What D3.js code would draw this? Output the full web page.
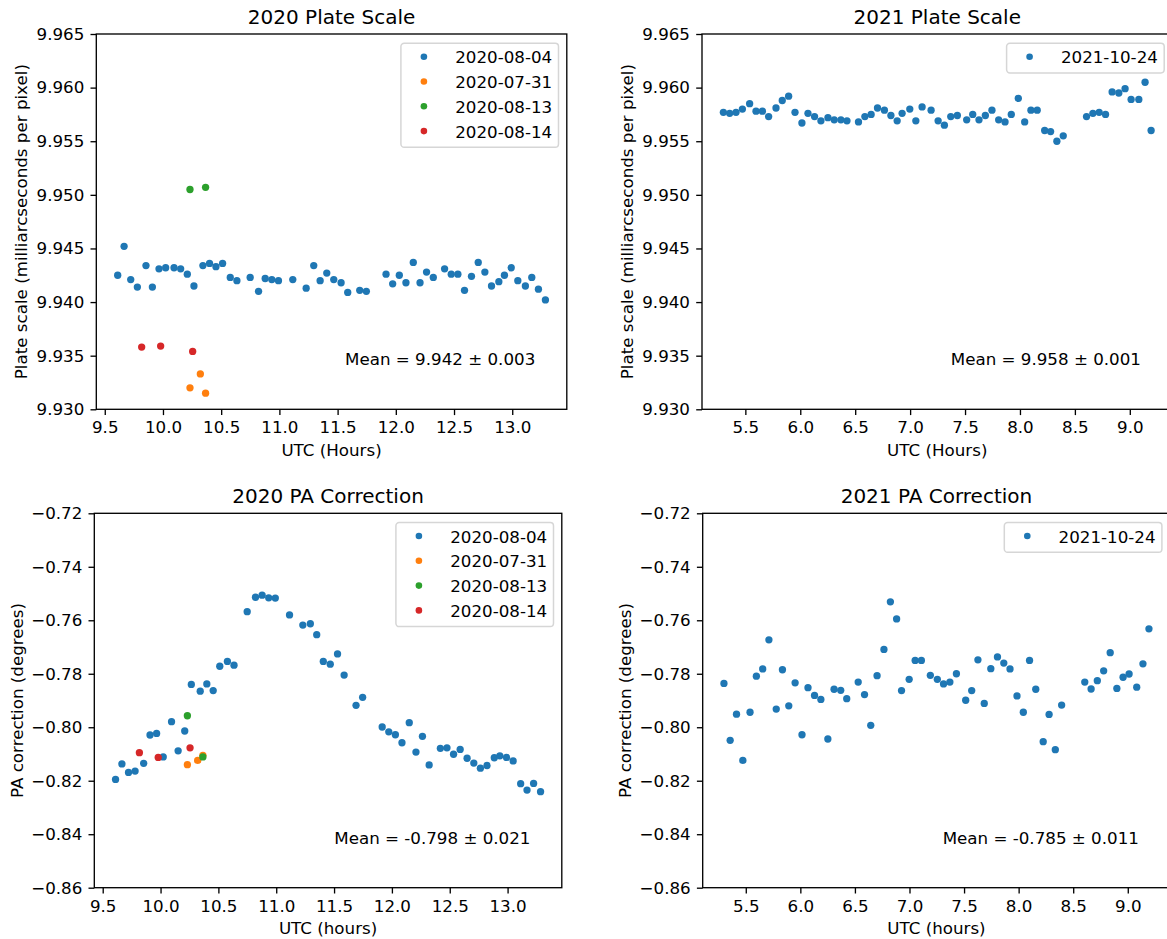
<!DOCTYPE html>
<html>
<head>
<meta charset="utf-8">
<script src="https://cdn.jsdelivr.net/npm/d3@7"></script>
<style>
body { margin: 0; background: #fff; }
svg { display: block; font-family: "DejaVu Sans", sans-serif; }
</style>
</head>
<body>
<svg id="chart"></svg>
<script>
// ---- data ----
const hours0804 = [9.611, 9.666, 9.723, 9.780, 9.854, 9.909, 9.966, 10.023, 10.095, 10.152, 10.209, 10.266, 10.343, 10.400, 10.455, 10.512, 10.578, 10.635, 10.749, 10.821, 10.878, 10.935, 10.992, 11.115, 11.230, 11.295, 11.350, 11.407, 11.467, 11.530, 11.587, 11.690, 11.747, 11.916, 11.973, 12.030, 12.087, 12.150, 12.208, 12.264, 12.322, 12.419, 12.476, 12.533, 12.590, 12.650, 12.708, 12.765, 12.822, 12.885, 12.933, 12.991, 13.048, 13.113, 13.168, 13.225, 13.285];
const scale0804 = [9.9425, 9.9452, 9.9421, 9.9414, 9.9434, 9.9414, 9.9431, 9.9432, 9.9432, 9.9431, 9.9426, 9.9415, 9.9434, 9.9436, 9.9433, 9.9436, 9.9423, 9.9420, 9.9423, 9.9410, 9.9422, 9.9421, 9.9420, 9.9421, 9.9413, 9.9434, 9.9420, 9.9427,
  9.9421, 9.9418, 9.9409, 9.9411, 9.9410, 9.9426, 9.9417, 9.9425, 9.9418, 9.9437, 9.9418, 9.9428, 9.9423, 9.9431, 9.9426, 9.9426, 9.9411, 9.9424, 9.9437, 9.9428, 9.9415, 9.9419, 9.9425, 9.9432, 9.9420, 9.9415, 9.9423, 9.9412, 9.9402];
const pa0804 = [-0.8195, -0.8137, -0.8169, -0.8164, -0.8135, -0.8029, -0.8023, -0.8111, -0.7979, -0.8088, -0.8014, -0.7840, -0.7865, -0.7838, -0.7863, -0.7772, -0.7754, -0.7768, -0.7568, -0.7514, -0.7506, -0.7516, -0.7517, -0.7580, -0.7618, -0.7613, -0.7654, -0.7754,
  -0.7764, -0.7726, -0.7805, -0.7918, -0.7888, -0.7999, -0.8017, -0.8028, -0.8058, -0.7983, -0.8093, -0.8034, -0.8141, -0.8079, -0.8077, -0.8101, -0.8083, -0.8116, -0.8134, -0.8153, -0.8143, -0.8114, -0.8107, -0.8113, -0.8126, -0.8211, -0.8235, -0.8210, -0.8241];

const hours0731 = [10.232, 10.321, 10.366];
const scale0731 = [9.9320, 9.9333, 9.9315];
const pa0731 = [-0.8140, -0.8124, -0.8105];

const hours0813 = [10.232, 10.366];
const scale0813 = [9.9505, 9.9507];
const pa0813 = [-0.7957, -0.8111];

const hours0814 = [9.817, 9.980, 10.255];
const scale0814 = [9.9358, 9.9359, 9.9354];
const pa0814 = [-0.8095, -0.8113, -0.8077];

const hours1024 = [5.300, 5.357, 5.415, 5.473, 5.539, 5.597, 5.655, 5.712, 5.779, 5.836, 5.894, 5.952, 6.015, 6.070, 6.130, 6.188, 6.252, 6.309, 6.370, 6.425, 6.530, 6.588, 6.645, 6.703, 6.766, 6.825, 6.882, 6.927, 6.997, 7.052, 7.109, 7.191, 7.255, 7.312, 7.370, 7.430, 7.515, 7.570, 7.627, 7.685, 7.745, 7.806, 7.864, 7.921, 7.985, 8.043, 8.100, 8.157, 8.225, 8.279, 8.336, 8.394, 8.606, 8.664, 8.721, 8.779, 8.839, 8.900, 8.957, 9.012, 9.082, 9.139, 9.194];
const scale1024 = [9.9577, 9.9576, 9.9577, 9.9580, 9.9585, 9.9578, 9.9578, 9.9573, 9.9581, 9.9588, 9.9592, 9.9577, 9.9567, 9.9576, 9.9573, 9.9569, 9.9572, 9.9570, 9.9570, 9.9569, 9.9568, 9.9573, 9.9575, 9.9581, 9.9579, 9.9574, 9.9569, 9.9576, 9.9580, 9.9569, 9.9582, 9.9579, 9.9569,
  9.9565, 9.9573, 9.9574, 9.9570, 9.9575, 9.9570, 9.9574, 9.9579, 9.9570, 9.9568, 9.9575, 9.9590, 9.9568, 9.9579, 9.9579, 9.9560, 9.9559, 9.9550, 9.9555, 9.9573, 9.9576, 9.9577, 9.9575, 9.9596, 9.9595, 9.9599, 9.9589, 9.9589, 9.9605, 9.9560];
const pa1024 = [-0.7836, -0.8049, -0.7951, -0.8124, -0.7944, -0.7809, -0.7782, -0.7673, -0.7932, -0.7785, -0.7920, -0.7834, -0.8028, -0.7852, -0.7881, -0.7896, -0.8044, -0.7858, -0.7862, -0.7893, -0.7831, -0.7878, -0.7993, -0.7807, -0.7709, -0.7531, -0.7595, -0.7863, -0.7821, -0.7750, -0.7750, -0.7806, -0.7821,
  -0.7838, -0.7831, -0.7800, -0.7899, -0.7863, -0.7748, -0.7911, -0.7781, -0.7737, -0.7760, -0.7782, -0.7883, -0.7944, -0.7750, -0.7858, -0.8054, -0.7952, -0.8084, -0.7917, -0.7831, -0.7857, -0.7826, -0.7789, -0.7721, -0.7855, -0.7813, -0.7801, -0.7850, -0.7763, -0.7632];

const labels2020 = ["2020-08-04", "2020-07-31", "2020-08-13", "2020-08-14"];
const labels2021 = ["2021-10-24"];
const colors = ["#1f77b4", "#ff7f0e", "#2ca02c", "#d62728"];

const xTicks2020 = [9.5, 10.0, 10.5, 11.0, 11.5, 12.0, 12.5, 13.0];
const xTicks2021 = [5.5, 6.0, 6.5, 7.0, 7.5, 8.0, 8.5, 9.0];
const scaleTicks = [9.930, 9.935, 9.940, 9.945, 9.950, 9.955, 9.960, 9.965];
const paTicks = [-0.86, -0.84, -0.82, -0.80, -0.78, -0.76, -0.74, -0.72];

const titles = ["2020 Plate Scale", "2021 Plate Scale", "2020 PA Correction", "2021 PA Correction"];
const meanTexts = ["Mean = 9.942 \u00b1 0.003", "Mean = 9.958 \u00b1 0.001", "Mean = -0.798 \u00b1 0.021", "Mean = -0.785 \u00b1 0.011"];

// ---- setup ----
const svg = d3.select("#chart").attr("width", 1167).attr("height", 939);
svg.append("rect").attr("width", 1167).attr("height", 939).attr("fill", "#fff");

const FS = 16.7;

function drawPanel(p) {
    const g = svg.append("g").attr("transform", `translate(${p.left},${p.top})`);

    // matplotlib style 5% margin on x
    const allX = p.series.flatMap(s => s.x);
    const [x0, x1] = d3.extent(allX);
    const m = (x1 - x0) * 0.05;
    const x = d3.scaleLinear().domain([x0 - m, x1 + m]).range([0, p.width]);
    const y = d3.scaleLinear().domain(d3.extent(p.yTicks)).range([p.height, 0]);

    const xAxis = g.append("g")
        .attr("transform", `translate(0,${p.height})`)
        .call(d3.axisBottom(x).tickValues(p.xTicks).tickFormat(d3.format(".1f"))
            .tickSize(5.8).tickPadding(6.3).tickSizeOuter(0));
    const yAxis = g.append("g")
        .call(d3.axisLeft(y).tickValues(p.yTicks).tickFormat(d3.format(p.yFmt))
            .tickSize(5.8).tickPadding(6.2).tickSizeOuter(0));
    [xAxis, yAxis].forEach(a => {
        a.attr("font-family", null).attr("font-size", null);
        a.select(".domain").remove();
        a.selectAll(".tick line").attr("stroke", "#000").attr("stroke-width", 1.33);
        a.selectAll(".tick text").attr("fill", "#000").style("font-size", FS + "px");
    });

    // points
    p.series.forEach((s, i) => {
        g.append("g").selectAll("circle")
            .data(s.x.map((d, j) => [d, s.y[j]]))
            .join("circle")
            .attr("cx", d => x(d[0]))
            .attr("cy", d => y(d[1]))
            .attr("r", 3.65)
            .attr("fill", colors[i]);
    });

    // frame
    g.append("rect")
        .attr("width", p.width).attr("height", p.height)
        .attr("fill", "none").attr("stroke", "#000").attr("stroke-width", 1.33);

    g.append("text")
        .attr("x", p.width / 2).attr("y", -10)
        .attr("text-anchor", "middle")
        .style("font-size", "20px")
        .text(p.title);

    g.append("text")
        .attr("x", p.width / 2).attr("y", p.height + 46.7)
        .attr("text-anchor", "middle")
        .style("font-size", FS + "px")
        .text(p.xLabel);

    g.append("text")
        .attr("transform", `translate(${p.yLabelX},${p.height / 2}) rotate(-90)`)
        .attr("text-anchor", "middle")
        .style("font-size", FS + "px")
        .text(p.yLabel);

    g.append("text")
        .attr("x", p.width * 0.933).attr("y", p.height * (1 - 0.118))
        .attr("text-anchor", "end")
        .style("font-size", FS + "px")
        .text(p.mean);

    // legend
    const n = p.series.length;
    const boxW = 157.6, boxH = 29.6 + 24.8 * (n - 1);
    const lg = g.append("g").attr("transform", `translate(${p.width - 8.3 - boxW},9.3)`);
    lg.append("rect")
        .attr("width", boxW).attr("height", boxH).attr("rx", 3.3)
        .attr("fill", "#fff").attr("fill-opacity", 0.8)
        .attr("stroke", "#d6d6d6").attr("stroke-width", 1.5);
    p.series.forEach((s, i) => {
        const cy = 13.4 + 24.8 * i;
        lg.append("circle").attr("cx", 23).attr("cy", cy).attr("r", 3.3).attr("fill", colors[i]);
        lg.append("text").attr("x", 54.3).attr("y", cy + 6.6)
            .style("font-size", FS + "px").text(s.label);
    });
}

const series2020Scale = [
    { label: labels2020[0], x: hours0804, y: scale0804 },
    { label: labels2020[1], x: hours0731, y: scale0731 },
    { label: labels2020[2], x: hours0813, y: scale0813 },
    { label: labels2020[3], x: hours0814, y: scale0814 }
];
const series2020Pa = [
    { label: labels2020[0], x: hours0804, y: pa0804 },
    { label: labels2020[1], x: hours0731, y: pa0731 },
    { label: labels2020[2], x: hours0813, y: pa0813 },
    { label: labels2020[3], x: hours0814, y: pa0814 }
];

drawPanel({ left: 96.3, top: 34, width: 470.5, height: 375.3, series: series2020Scale,
    xTicks: xTicks2020, yTicks: scaleTicks, yFmt: ".3f", title: titles[0], mean: meanTexts[0],
    xLabel: "UTC (Hours)", yLabel: "Plate scale (milliarcseconds per pixel)", yLabelX: -69.3 });
drawPanel({ left: 702, top: 34, width: 470.5, height: 375.3,
    series: [{ label: labels2021[0], x: hours1024, y: scale1024 }],
    xTicks: xTicks2021, yTicks: scaleTicks, yFmt: ".3f", title: titles[1], mean: meanTexts[1],
    xLabel: "UTC (Hours)", yLabel: "Plate scale (milliarcseconds per pixel)", yLabelX: -69.3 });
drawPanel({ left: 94.3, top: 513.3, width: 467.5, height: 374.4, series: series2020Pa,
    xTicks: xTicks2020, yTicks: paTicks, yFmt: ".2f", title: titles[2], mean: meanTexts[2],
    xLabel: "UTC (hours)", yLabel: "PA correction (degrees)", yLabelX: -71.6 });
drawPanel({ left: 702.7, top: 513.3, width: 467.5, height: 374.4,
    series: [{ label: labels2021[0], x: hours1024, y: pa1024 }],
    xTicks: xTicks2021, yTicks: paTicks, yFmt: ".2f", title: titles[3], mean: meanTexts[3],
    xLabel: "UTC (hours)", yLabel: "PA correction (degrees)", yLabelX: -71.6 });
</script>
</body>
</html>
